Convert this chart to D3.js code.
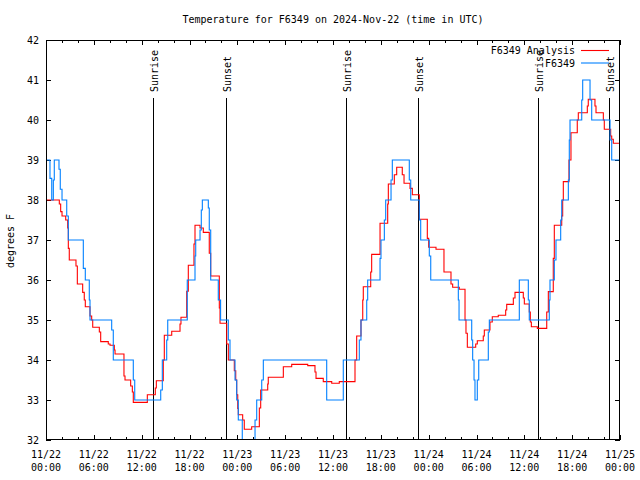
<!DOCTYPE html>
<html><head><meta charset="utf-8">
<script src="https://cdn.jsdelivr.net/npm/d3@7"></script>
<style>
body{margin:0;background:#fff;}
text{font-family:"DejaVu Sans Mono",monospace;font-size:10px;fill:#000;}
</style></head><body>
<svg id="chart" width="640" height="480"></svg>
<script>
const chartTitle = "Temperature for F6349 on 2024-Nov-22 (time in UTC)";
const yAxisLabel = "degrees F";
const seriesNames = ["F6349 Analysis", "F6349"];
const seriesColors = ["#ff0000", "#0080ff"];
const xTickHours = [0, 6, 12, 18, 24, 30, 36, 42, 48, 54, 60, 66, 72];
const xTickDates = ["11/22","11/22","11/22","11/22","11/23","11/23","11/23","11/23","11/24","11/24","11/24","11/24","11/25"];
const xTickTimes = ["00:00","06:00","12:00","18:00","00:00","06:00","12:00","18:00","00:00","06:00","12:00","18:00","00:00"];
const yTickValues = [32, 33, 34, 35, 36, 37, 38, 39, 40, 41, 42];
const sunLabels = ["Sunrise", "Sunset", "Sunrise", "Sunset", "Sunrise", "Sunset"];
const sunHours = [13.42, 22.58, 37.63, 46.66, 61.70, 70.60];

// hours since 2024-11-22 00:00 UTC, temperature (F) holds until next step
const analysisHours = [0,1.67,1.84,2.01,2.47,2.72,2.80,2.92,3.76,3.93,4.60,4.80,4.93,5.52,5.73,5.86,6.69,6.86,7.81,8.03,8.57,8.66,9.78,9.91,10.62,10.83,10.95,12.71,13.71,13.84,14.71,14.84,15.77,16.81,16.93,17.65,17.85,18.56,18.69,19.32,19.73,20.48,20.66,21.74,21.83,22.67,22.87,23.62,23.80,23.92,24.05,24.12,24.67,24.87,25.80,26.76,26.93,27.81,27.88,29.77,30.82,32.83,33.74,33.87,34.78,35.84,36.79,38.76,38.97,39.51,39.73,39.80,40.73,40.85,41.90,42.86,42.94,43.69,43.99,44.69,44.91,45.66,45.95,46.83,47.83,48.00,48.92,49.92,50.80,51.01,51.84,52.56,52.68,52.85,53.90,54.10,54.85,54.98,55.69,55.98,56.73,57.66,57.79,58.62,58.83,59.87,60.00,60.62,60.75,60.88,61.63,62.81,63.01,63.63,63.76,64.69,64.81,64.89,65.60,65.85,66.64,66.77,67.90,68.02,68.86,68.99,69.91,70.03,70.83,70.96,71.16,71.87];
const analysisTemps = [38.0,37.9,37.71,37.6,37.5,37.3,36.79,36.5,36.35,35.9,35.69,35.5,35.33,35.1,35.0,34.82,34.7,34.46,34.4,34.37,34.25,34.15,33.6,33.5,33.35,33.2,32.94,33.13,33.3,33.48,34.0,34.62,34.72,34.9,35.07,35.72,36.37,36.9,37.37,37.3,37.19,36.67,36.1,35.3,34.92,34.4,34.0,33.73,33.5,33.13,32.79,32.63,32.5,32.27,32.33,32.8,33.25,33.4,33.57,33.83,33.89,33.86,33.7,33.54,33.46,33.42,33.46,34.0,34.6,35.0,35.5,35.83,36.2,36.64,37.42,37.9,38.4,38.63,38.82,38.63,38.42,38.29,38.13,37.52,37.04,36.82,36.77,36.2,35.9,35.82,35.77,35.0,34.67,34.32,34.4,34.48,34.6,34.75,34.95,35.08,35.12,35.25,35.39,35.55,35.69,35.55,35.4,35.2,34.95,34.83,34.79,35.2,35.71,36.54,37.37,37.6,38.0,38.46,39.0,39.68,40.0,40.18,40.35,40.52,40.35,40.18,40.0,39.77,39.6,39.52,39.42,39.42];

const stationHours = [0,0.50,0.72,0.92,1.04,1.63,1.79,2.01,2.60,2.80,4.68,4.93,5.43,5.52,8.24,8.44,10.95,11.13,14.39,14.59,15.14,15.27,17.72,18.69,18.78,19.32,19.48,19.61,20.36,20.48,20.66,21.61,21.90,22.87,23.08,23.71,23.92,24.12,24.62,24.75,26.22,26.43,27.06,27.26,35.21,37.29,39.30,39.51,40.23,40.35,41.90,42.02,42.44,42.61,43.28,43.44,45.57,45.75,46.83,47.00,48.08,48.26,51.72,51.81,53.40,53.52,53.69,53.81,54.10,54.28,55.48,55.61,59.37,60.50,60.62,63.13,63.22,63.76,63.97,64.56,64.69,65.52,65.64,65.73,67.20,67.32,68.24,68.45,70.75,70.96,72];
const stationTemps = [39,38.54,38,38.5,39,38.77,38.27,38,37.6,37,36.29,36,35.5,35,34.75,34,33.5,33,33.25,34,34.5,35,36,36.6,37,37.25,37.75,38,37.8,37.25,36,35.5,35,34.5,34,33.5,33,32.5,32,31.5,32.5,33,33.5,34,33,34,34.5,35,35.5,36,36.54,37,37.5,38,38.5,39,38.5,38,37.5,37,36.6,36,35.5,35,34.5,34,33.5,33,33.5,34,34.7,35,36,35.5,35,35.5,36,36.5,37,37.5,38,38.5,39.5,40,40.5,41,40.5,40,39.5,39,39];

const L = 46, R = 620, T = 40, B = 440;
const svg = d3.select("#chart");
const x = d3.scaleLinear().domain([0, 72]).range([L, R]);
const y = d3.scaleLinear().domain([32, 42]).range([B, T]);

svg.append("rect").attr("width", 640).attr("height", 480).attr("fill", "#fff");

svg.append("defs").append("clipPath").attr("id", "clip")
  .append("rect").attr("x", L).attr("y", T).attr("width", R - L).attr("height", B - T);

// title
svg.append("text").attr("x", (L + R) / 2).attr("y", 23).attr("text-anchor", "middle").text(chartTitle);

// y label
svg.append("text").attr("transform", "translate(14,241) rotate(-90)").attr("text-anchor", "middle").text(yAxisLabel);

const minorHours = d3.range(0, 73, 2).filter(h => h % 6 !== 0);
function styleAxis(g) {
  g.select(".domain").remove();
  g.selectAll("line").attr("stroke", "#000").attr("shape-rendering", "crispEdges");
  g.selectAll("text").remove();
}
svg.append("g").attr("transform", `translate(0,${B})`)
  .call(d3.axisBottom(x).tickValues(xTickHours).tickSizeInner(-5).tickSizeOuter(0).tickFormat("")).call(styleAxis);
svg.append("g").attr("transform", `translate(0,${B})`)
  .call(d3.axisBottom(x).tickValues(minorHours).tickSizeInner(-3).tickSizeOuter(0).tickFormat("")).call(styleAxis);
svg.append("g").attr("transform", `translate(0,${T})`)
  .call(d3.axisTop(x).tickValues(xTickHours).tickSizeInner(-5).tickSizeOuter(0).tickFormat("")).call(styleAxis);
svg.append("g").attr("transform", `translate(0,${T})`)
  .call(d3.axisTop(x).tickValues(minorHours).tickSizeInner(-3).tickSizeOuter(0).tickFormat("")).call(styleAxis);
svg.append("g").attr("transform", `translate(${L},0)`)
  .call(d3.axisLeft(y).tickValues(yTickValues).tickSizeInner(-5).tickSizeOuter(0).tickFormat("")).call(styleAxis);
svg.append("g").attr("transform", `translate(${R},0)`)
  .call(d3.axisRight(y).tickValues(yTickValues).tickSizeInner(-5).tickSizeOuter(0).tickFormat("")).call(styleAxis);

// tick labels
svg.selectAll(".ylab").data(yTickValues).enter().append("text")
  .attr("x", L - 7).attr("y", d => y(d) + 3.6).attr("text-anchor", "end").text(d => d);
xTickHours.forEach((h, i) => {
  svg.append("text").attr("x", x(h)).attr("y", 457.5).attr("text-anchor", "middle").text(xTickDates[i]);
  svg.append("text").attr("x", x(h)).attr("y", 470.5).attr("text-anchor", "middle").text(xTickTimes[i]);
});

// sunrise / sunset markers
const sunTop = 40.55;
sunHours.forEach((h, i) => {
  const px = Math.round(x(h)) + 0.5;
  svg.append("line").attr("x1", px).attr("x2", px).attr("y1", y(sunTop)).attr("y2", y(32))
    .attr("stroke", "#000").attr("stroke-width", 1).attr("shape-rendering", "crispEdges");
  svg.append("text").attr("transform", `translate(${px + 4},92) rotate(-90)`)
    .attr("text-anchor", "start").text(sunLabels[i]);
});

// series
const line = d3.line().x(d => x(d[0])).y(d => y(d[1])).curve(d3.curveStepAfter);
const plot = svg.append("g").attr("clip-path", "url(#clip)");
const seriesData = [
  analysisHours.map((h, i) => [h, analysisTemps[i]]),
  stationHours.map((h, i) => [h, stationTemps[i]])
];
seriesData.forEach((d, i) => {
  plot.append("path").datum(d).attr("d", line).attr("fill", "none")
    .attr("stroke", seriesColors[i]).attr("stroke-width", 1.1);
});

// border
svg.append("rect").attr("x", L + 0.5).attr("y", T + 0.5).attr("width", R - L - 1).attr("height", B - T - 1)
  .attr("fill", "none").attr("stroke", "#000").attr("shape-rendering", "crispEdges");

// legend
seriesNames.forEach((n, i) => {
  const ly = 50.5 + i * 12.5;
  svg.append("text").attr("x", 575).attr("y", ly + 3.6).attr("text-anchor", "end").text(n);
  svg.append("line").attr("x1", 581).attr("x2", 609).attr("y1", ly).attr("y2", ly)
    .attr("stroke", seriesColors[i]).attr("stroke-width", 1.1);
});
</script>
</body></html>
